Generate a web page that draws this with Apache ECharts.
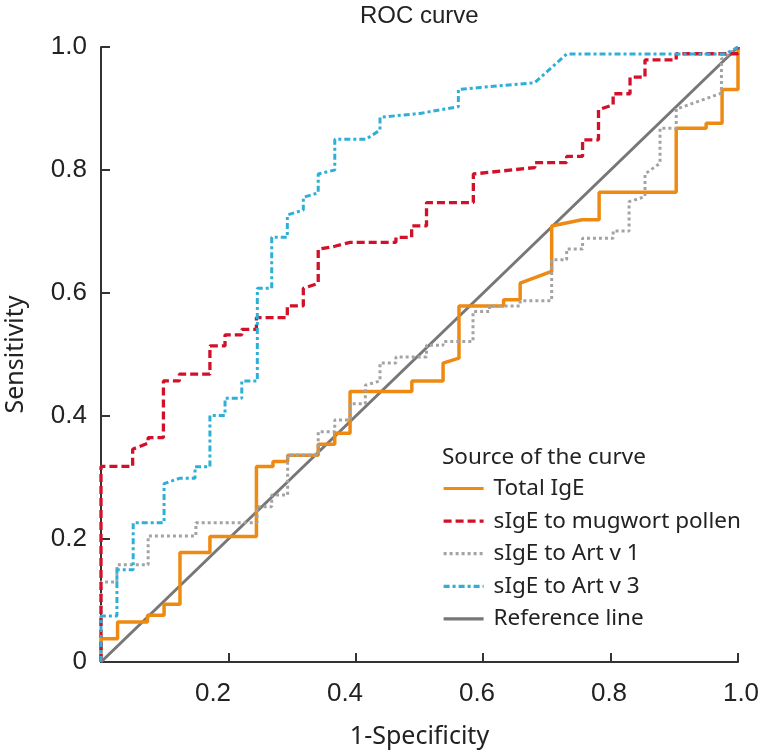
<!DOCTYPE html>
<html>
<head>
<meta charset="utf-8">
<script src="https://cdn.jsdelivr.net/npm/echarts@6/dist/echarts.min.js"></script>
<style>html,body{margin:0;padding:0;background:#fff;}#c{width:762px;height:756px;}</style>
</head>
<body>
<div id="c"></div>
<script>
// Tick values
const tickValues = [0, 0.2, 0.4, 0.6, 0.8, 1.0];

// Total IgE
const totalIgeX = [0,0,0.026,0.026,0.073,0.073,0.099,0.099,0.124,0.124,0.171,0.171,0.244,0.244,0.27,0.27,0.293,0.293,0.341,0.341,0.367,0.367,0.391,0.391,0.488,0.488,0.537,0.537,0.562,0.562,0.632,0.632,0.658,0.658,0.7075,0.7075,0.755,0.782,0.782,0.903,0.903,0.95,0.95,0.975,0.975,1,1];
const totalIgeY = [0,0.038,0.038,0.065,0.065,0.076,0.076,0.094,0.094,0.178,0.178,0.204,0.204,0.318,0.318,0.326,0.326,0.336,0.336,0.354,0.354,0.372,0.372,0.44,0.44,0.457,0.457,0.486,0.494,0.579,0.579,0.589,0.589,0.616,0.635,0.709,0.719,0.719,0.764,0.764,0.868,0.868,0.876,0.876,0.931,0.931,1];

// sIgE to mugwort pollen
const mugwortX = [0,0,0.0497,0.0497,0.074,0.074,0.098,0.098,0.123,0.123,0.171,0.171,0.1947,0.1947,0.221,0.221,0.244,0.244,0.2925,0.2925,0.3176,0.3176,0.341,0.341,0.367,0.391,0.463,0.463,0.4877,0.4877,0.511,0.511,0.5845,0.5845,0.681,0.681,0.731,0.731,0.756,0.756,0.781,0.781,0.804,0.804,0.8305,0.8305,0.854,0.854,0.903,0.903,1,1];
const mugwortY = [0,0.318,0.318,0.346,0.356,0.365,0.365,0.457,0.457,0.468,0.468,0.514,0.514,0.532,0.532,0.541,0.541,0.56,0.56,0.579,0.579,0.6076,0.6157,0.671,0.676,0.6824,0.6824,0.6905,0.6905,0.709,0.709,0.747,0.747,0.7935,0.804,0.812,0.812,0.822,0.822,0.849,0.849,0.898,0.906,0.924,0.924,0.951,0.951,0.979,0.979,0.989,0.989,1];

// sIgE to Art v 1
const artV1X = [0,0,0.025,0.025,0.074,0.074,0.149,0.149,0.245,0.245,0.268,0.268,0.293,0.293,0.341,0.341,0.367,0.367,0.391,0.391,0.415,0.415,0.438,0.438,0.463,0.463,0.511,0.511,0.537,0.537,0.584,0.584,0.61,0.61,0.658,0.658,0.7075,0.7075,0.731,0.731,0.756,0.756,0.804,0.804,0.829,0.829,0.854,0.854,0.8776,0.8776,0.903,0.903,0.974,0.974,1];
const artV1Y = [0,0.13,0.13,0.158,0.158,0.205,0.205,0.2265,0.2265,0.2526,0.2526,0.2715,0.2715,0.3366,0.3366,0.3745,0.3745,0.3935,0.3935,0.42,0.42,0.45,0.457,0.486,0.486,0.496,0.496,0.515,0.515,0.521,0.521,0.57,0.57,0.579,0.579,0.5875,0.5875,0.654,0.654,0.6715,0.6715,0.689,0.689,0.701,0.701,0.7485,0.7566,0.7935,0.811,0.868,0.868,0.899,0.925,0.98,1];

// sIgE to Art v 3
const artV3X = [0,0,0.025,0.025,0.0505,0.0505,0.099,0.099,0.123,0.1476,0.1476,0.171,0.171,0.1947,0.1947,0.221,0.221,0.2454,0.2454,0.268,0.268,0.2925,0.2925,0.3176,0.3176,0.341,0.341,0.367,0.367,0.416,0.438,0.438,0.501,0.561,0.561,0.681,0.731,0.98,1];
const artV3Y = [0,0.075,0.075,0.15,0.15,0.2265,0.2265,0.29,0.2986,0.2986,0.3176,0.3176,0.401,0.401,0.4287,0.4287,0.457,0.457,0.6076,0.6076,0.6905,0.6905,0.7268,0.735,0.7556,0.763,0.7935,0.80,0.85,0.85,0.865,0.8857,0.892,0.903,0.931,0.942,0.9886,0.9886,1];

// Reference line
const refX = [0, 1];
const refY = [0, 1];

const zip = (xs, ys) => xs.map((x, i) => [x, ys[i]]);

const chart = echarts.init(document.getElementById('c'), null, {renderer: 'canvas'});
const labelFont = 'Liberation Sans, Arial, sans-serif';
const nameFont = 'Noto Sans, sans-serif';

chart.setOption({
  animation: false,
  backgroundColor: '#fff',
  title: [
    {text: 'ROC curve', left: 355, top: -1,
     textStyle: {fontFamily: labelFont, fontSize: 24, fontWeight: 'normal', color: '#222'}},
    {text: 'Source of the curve', left: 437, top: 441,
     textStyle: {fontFamily: nameFont, fontSize: 22.5, fontWeight: 'normal', color: '#222', lineHeight: 24}}
  ],
  legend: {
    orient: 'vertical',
    left: 442,
    top: 477,
    padding: 0,
    itemWidth: 40,
    itemHeight: 14,
    itemGap: 9.6,
    itemStyle: {color: 'transparent', borderColor: 'transparent', borderWidth: 0, opacity: 0},
    lineStyle: {width: 3.2},
    data: ['Total IgE', 'sIgE to mugwort pollen', 'sIgE to Art v 1', 'sIgE to Art v 3', 'Reference line'],
    textStyle: {fontFamily: nameFont, fontSize: 22.5, color: '#222', lineHeight: 23, padding: [0, 0, 0, 5]}
  },
  grid: [
    {left: 101, right: 24, top: 47, bottom: 94, outerBoundsMode: 'none', containLabel: false},
    {left: 81, right: 21, top: 47, bottom: 94, outerBoundsMode: 'none', containLabel: false}
  ],
  xAxis: [
    {
      type: 'value', gridIndex: 0, min: 0, max: 1, interval: 0.2,
      name: '1-Specificity', nameLocation: 'middle', nameGap: 62,
      nameTextStyle: {fontFamily: nameFont, fontSize: 25, color: '#222'},
      axisLine: {show: true, lineStyle: {color: '#333', width: 2}},
      axisTick: {show: true, inside: true, length: 9, lineStyle: {color: '#333', width: 2}},
      axisLabel: {show: false},
      splitLine: {show: false}
    },
    {
      type: 'value', gridIndex: 1, min: 0, max: 1, interval: 0.2,
      axisLine: {show: false}, axisTick: {show: false}, splitLine: {show: false},
      axisLabel: {show: true, margin: 19, fontFamily: labelFont, fontSize: 26, color: '#222',
        formatter: v => (v === 0 ? '' : v.toFixed(1))}
    }
  ],
  yAxis: [
    {
      type: 'value', gridIndex: 0, min: 0, max: 1, interval: 0.2,
      name: 'Sensitivity', nameLocation: 'middle', nameGap: 73, nameRotate: 90,
      nameTextStyle: {fontFamily: nameFont, fontSize: 25, color: '#222'},
      axisLine: {show: true, lineStyle: {color: '#333', width: 2}},
      axisTick: {show: true, inside: true, length: 9, lineStyle: {color: '#333', width: 2}},
      axisLabel: {show: true, margin: 14, fontFamily: labelFont, fontSize: 26, color: '#222',
        formatter: v => (v === 0 ? '0' : v.toFixed(1))},
      splitLine: {show: false}
    },
    {type: 'value', gridIndex: 1, min: 0, max: 1, show: false}
  ],
  series: [
    {name: 'Reference line', type: 'line', xAxisIndex: 0, yAxisIndex: 0, data: zip(refX, refY),
     symbol: 'none', lineStyle: {color: '#777777', width: 3}, itemStyle: {color: '#777777'}},
    {name: 'Total IgE', type: 'line', data: zip(totalIgeX, totalIgeY), symbol: 'none',
     lineStyle: {color: '#EE8A12', width: 3.5}, itemStyle: {color: '#EE8A12'}},
    {name: 'sIgE to Art v 1', type: 'line', data: zip(artV1X, artV1Y), symbol: 'none',
     lineStyle: {color: '#A3A3A3', width: 3, type: [3, 3]}, itemStyle: {color: '#A3A3A3'}},
    {name: 'sIgE to mugwort pollen', type: 'line', data: zip(mugwortX, mugwortY), symbol: 'none',
     lineStyle: {color: '#D2102A', width: 3.3, type: [8, 4]}, itemStyle: {color: '#D2102A'}},
    {name: 'sIgE to Art v 3', type: 'line', data: zip(artV3X, artV3Y), symbol: 'none',
     lineStyle: {color: '#2EAFD8', width: 3, type: [6, 3, 3, 3]}, itemStyle: {color: '#2EAFD8'}}
  ]
});
</script>
</body>
</html>
